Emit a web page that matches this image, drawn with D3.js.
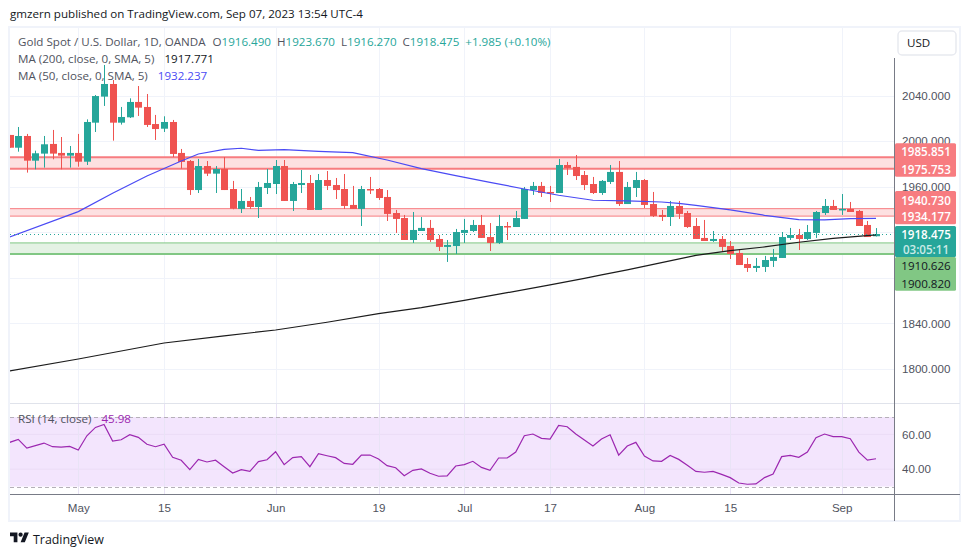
<!DOCTYPE html>
<html>
<head>
<meta charset="utf-8">
<script src="https://cdnjs.cloudflare.com/ajax/libs/d3/7.8.5/d3.min.js"></script>
<style>
  html, body { margin: 0; padding: 0; background: #fff; }
  svg { display: block; font-family: "Open Sans", sans-serif; }
</style>
</head>
<body>
<div id="chart"></div>
<script>
// daily candles, index 0 = mid April 2023, index 101 = Sep 07
const opens = [2005.5,1994.3,2004.6,1982.9,1989.1,1997.6,1989.7,1987.3,1989.7,1982.0,2016.3,2039.2,2050.3,2016.3,2021.0,2034.5,2030.1,2015.1,2011.0,2016.9,
  1989.7,1982.6,1957.1,1978.2,1971.5,1975.6,1958.0,1940.5,1947.5,1942.2,1958.9,1962.4,1978.2,1947.5,1961.5,1963.3,1939.6,1965.9,1961.5,1958.0,
  1944.0,1940.5,1958.0,1958.0,1951.0,1936.9,1932.5,1913.2,1921.1,1923.8,1914.1,1907.1,1907.9,1919.4,1921.1,1926.4,1915.8,1910.6,1925.5,1924.6,
  1931.7,1957.1,1960.7,1955.4,1954.5,1979.1,1977.4,1970.3,1962.4,1954.5,1964.2,1973.0,1944.8,1958.9,1965.9,1944.8,1935.2,1933.4,1943.1,1936.9,
  1925.5,1915.0,1912.3,1914.1,1907.9,1901.8,1892.1,1888.6,1889.5,1894.8,1897.4,1915.0,1917.6,1914.1,1919.4,1936.9,1943.1,1939.6,1940.5,1938.7,
  1926.4,1916.49];
const highs = [2005.5,2012.5,2006.4,1991.7,2004.6,2009.9,2003.7,1995.8,2006.4,2019.2,2040.6,2067.0,2053.8,2030.1,2037.7,2048.5,2041.5,2023.1,2021.9,2018.7,
  1993.2,1983.5,1984.4,1982.6,1978.2,1986.1,1965.1,1958.0,1951.0,1964.2,1975.6,1983.5,1983.5,1964.2,1974.7,1970.3,1971.2,1973.8,1967.7,1971.2,
  1960.7,1960.7,1968.6,1958.9,1957.1,1939.6,1935.2,1937.8,1933.4,1930.8,1917.6,1913.2,1922.9,1931.7,1930.8,1935.2,1928.1,1935.2,1929.0,1938.7,
  1959.8,1964.2,1964.2,1960.7,1984.4,1981.8,1987.9,1973.8,1968.6,1965.9,1979.1,1982.6,1964.2,1973.0,1966.8,1955.4,1939.6,1947.5,1947.5,1938.7,
  1932.5,1930.8,1921.1,1916.7,1912.3,1905.3,1897.4,1897.4,1899.2,1905.3,1920.2,1923.8,1922.9,1926.4,1938.7,1949.2,1948.4,1953.6,1946.6,1939.6,
  1929.9,1923.67];
const lows = [1994.3,1990.8,1972.4,1975.3,1976.8,1984.1,1975.3,1976.8,1977.6,1979.1,2008.1,2031.0,2000.5,2014.6,2020.4,2022.2,2012.5,2001.1,2008.1,1986.1,
  1975.9,1952.8,1954.5,1969.4,1954.5,1957.1,1940.2,1936.9,1940.5,1932.5,1953.6,1953.6,1947.5,1938.7,1954.5,1939.6,1939.6,1957.1,1949.2,1940.5,
  1940.5,1925.5,1953.6,1948.4,1929.9,1919.4,1913.2,1910.6,1921.1,1911.5,1903.5,1893.9,1900.9,1910.6,1920.2,1915.0,1903.5,1909.7,1913.2,1924.6,
  1931.7,1952.8,1951.0,1946.6,1954.5,1970.3,1965.9,1957.1,1953.6,1952.8,1962.4,1943.1,1944.8,1951.0,1941.3,1933.4,1929.9,1925.5,1931.7,1923.8,
  1914.1,1912.3,1911.5,1903.5,1896.5,1891.2,1885.1,1885.1,1885.1,1889.5,1897.4,1913.2,1904.4,1913.2,1915.0,1935.2,1939.6,1935.2,1937.8,1925.5,
  1915.8,1916.27];
const closes = [1994.3,2004.6,1982.9,1989.4,1997.3,1989.1,1987.3,1989.7,1982.0,2016.9,2039.7,2050.3,2016.3,2021.3,2034.5,2029.5,2014.3,2010.7,2016.9,1988.8,
  1981.8,1957.1,1978.2,1971.5,1975.6,1957.1,1940.7,1947.5,1942.2,1959.8,1963.3,1978.2,1947.5,1962.4,1963.3,1939.6,1965.9,1960.7,1957.1,1943.1,
  1940.5,1958.0,1957.1,1950.1,1936.1,1931.7,1913.2,1922.0,1923.8,1913.2,1907.1,1908.8,1920.2,1922.0,1926.4,1915.0,1910.6,1925.5,1924.6,1932.5,
  1958.0,1960.7,1954.5,1954.5,1979.1,1976.5,1969.4,1961.5,1954.5,1965.1,1973.0,1944.8,1959.8,1965.9,1944.0,1934.3,1933.4,1943.1,1936.1,1924.6,
  1914.1,1912.3,1914.1,1907.1,1900.9,1891.2,1888.6,1890.4,1895.6,1898.3,1915.8,1917.6,1914.1,1920.2,1937.8,1943.1,1939.6,1940.5,1937.8,1925.5,
  1915.8,1918.475];

// moving averages read at these candle indexes
const ma50Index = [0,8,12,16,20,22,25,27,29,32,36,40,44,48,52,56,60,64,68,72,76,78,80,84,88,92,95,98,101];
const ma50Values = [1915.8,1938.1,1954.2,1969.4,1982.6,1988.8,1992.9,1993.8,1992.0,1992.6,1991.1,1990.0,1983.5,1975.9,1969.7,1963.9,1958.0,1952.5,1948.1,1947.5,1946.6,1945.4,1943.7,1939.6,1934.9,1931.1,1930.8,1932.0,1932.237];
const ma200Index = [0,8,18,25,31,37,43,48,53,58,63,67,69,72,76,80,84,88,92,96,101];
const ma200Values = [1798.1,1808.6,1822.7,1828.9,1834.1,1840.9,1848.5,1853.8,1860.2,1866.9,1873.7,1879.5,1882.5,1886.9,1893.3,1899.7,1903.8,1907.1,1911.2,1914.7,1917.771];

const rsiValues = [55.4,57.1,52.1,53.5,55.0,52.9,52.7,53.1,51.0,59.2,64.0,65.7,56.2,56.9,59.8,58.3,54.3,52.9,54.3,46.8,
  45.1,39.7,45.6,44.1,45.1,41.4,37.8,39.7,38.7,44.3,45.4,50.0,42.6,46.6,47.2,41.4,48.9,47.7,46.6,43.3,
  42.8,48.1,48.1,45.8,42.0,40.8,36.2,39.3,40.1,37.6,35.9,36.1,41.8,42.6,44.5,41.0,39.3,46.4,46.4,49.8,
  59.2,60.2,57.7,57.3,65.2,64.4,60.2,56.7,53.3,57.3,59.8,48.1,53.3,55.4,47.5,44.7,44.5,47.9,45.6,42.2,
  38.7,38.2,38.7,37.0,35.1,32.0,31.3,31.5,35.1,37.2,47.2,47.9,46.8,49.8,58.1,60.2,58.7,58.7,57.5,49.8,
  45.2,45.98];

const bands = [
  {top: 1985.851, bottom: 1975.753, line: "#f77c80", fill: "#fde0e1", topW: 2, bottomW: 2, color: "#f77c80"},
  {top: 1940.730, bottom: 1934.177, line: "#f77c80", fill: "#fde0e1", topW: 1, bottomW: 1, color: "#f77c80"},
  {top: 1910.626, bottom: 1900.820, line: "#81c784", fill: "#e4f2e4", topW: 1, bottomW: 2, color: "#81c784"}
];

const priceTicks = [2040, 2000, 1960, 1920, 1880, 1840, 1800];
const priceLabels = [2040, 2000, 1960, 1840, 1800];
const rsiTicks = [60, 40];
const dateTicks = [8, 18, 31, 43, 53, 63, 74, 84, 97];
const dateLabels = ["May", "15", "Jun", "19", "Jul", "17", "Aug", "15", "Sep"];

const svg_width = 970, svg_height = 557;
const paneLeft = 10, paneRight = 894, paneTop = 28, paneBottom = 403, rsiBottom = 494, frameBottom = 521;
const teal = "#26a69a", red = "#ef5350", gridCol = "#f0f3fa", textCol = "#50535e";

const svg = d3.select("#chart").append("svg").attr("width", svg_width).attr("height", svg_height);

const xScale = d3.scaleLinear([8, 97], [78.3, 841.7]);
const yScale = d3.scaleLinear([2040, 1800], [95.7, 368.8]);
const rsiScale = d3.scaleLinear([70, 30], [417, 486.5]);

svg.append("clipPath").attr("id", "mainClip").append("rect")
  .attr("x", paneLeft).attr("y", paneTop).attr("width", paneRight - paneLeft).attr("height", paneBottom - paneTop);
svg.append("clipPath").attr("id", "rsiClip").append("rect")
  .attr("x", paneLeft).attr("y", paneBottom).attr("width", paneRight - paneLeft).attr("height", rsiBottom - paneBottom);

// frame
svg.append("rect").attr("x", 9).attr("y", 27).attr("width", 951).attr("height", frameBottom - 27)
  .attr("fill", "none").attr("stroke", gridCol).attr("stroke-width", 2);

// grid
const grid = svg.append("g");
grid.selectAll(".vgrid").data(dateTicks).enter().append("line")
  .attr("x1", d => Math.round(xScale(d)) + 0.5).attr("x2", d => Math.round(xScale(d)) + 0.5)
  .attr("y1", paneTop).attr("y2", rsiBottom).attr("stroke", gridCol);
grid.selectAll(".hgrid").data(priceTicks).enter().append("line")
  .attr("x1", paneLeft).attr("x2", paneRight)
  .attr("y1", d => Math.round(yScale(d)) + 0.5).attr("y2", d => Math.round(yScale(d)) + 0.5)
  .attr("stroke", gridCol);

// horizontal zones
const main = svg.append("g").attr("clip-path", "url(#mainClip)");
bands.forEach(b => {
  main.append("rect").attr("x", paneLeft).attr("width", paneRight - paneLeft)
    .attr("y", yScale(b.top)).attr("height", yScale(b.bottom) - yScale(b.top)).attr("fill", b.fill);
  main.append("line").attr("x1", paneLeft).attr("x2", paneRight)
    .attr("y1", yScale(b.top)).attr("y2", yScale(b.top)).attr("stroke", b.line).attr("stroke-width", b.topW);
  main.append("line").attr("x1", paneLeft).attr("x2", paneRight)
    .attr("y1", yScale(b.bottom)).attr("y2", yScale(b.bottom)).attr("stroke", b.line).attr("stroke-width", b.bottomW);
});

// candles
const candleCol = i => closes[i] >= opens[i] ? teal : red;
main.selectAll(".wick").data(d3.range(opens.length)).enter().append("line")
  .attr("class", "wick")
  .attr("x1", i => Math.round(xScale(i)) + 0.5).attr("x2", i => Math.round(xScale(i)) + 0.5)
  .attr("y1", i => yScale(highs[i])).attr("y2", i => yScale(lows[i]))
  .attr("stroke", candleCol);
main.selectAll(".body").data(d3.range(opens.length)).enter().append("rect")
  .attr("class", "body")
  .attr("x", i => Math.round(xScale(i)) - 3).attr("width", 7)
  .attr("y", i => yScale(Math.max(opens[i], closes[i])))
  .attr("height", i => Math.max(1.5, Math.abs(yScale(opens[i]) - yScale(closes[i]))))
  .attr("fill", candleCol);

// moving averages
const maLine = (index, values, color) => {
  main.append("path")
    .attr("d", d3.line().x((d, i) => xScale(index[i])).y(d => yScale(d))(values))
    .attr("fill", "none").attr("stroke", color).attr("stroke-width", 1.2);
};
maLine(ma200Index, ma200Values, "#1c1c1c");
maLine(ma50Index, ma50Values, "#4a4af4");

// last price dotted line
const lastClose = closes[closes.length - 1];
main.append("line").attr("x1", paneLeft).attr("x2", paneRight)
  .attr("y1", Math.round(yScale(lastClose)) + 0.5).attr("y2", Math.round(yScale(lastClose)) + 0.5)
  .attr("stroke", teal).attr("stroke-dasharray", "1 3");

// rsi pane
const rsiPane = svg.append("g").attr("clip-path", "url(#rsiClip)");
rsiPane.append("rect").attr("x", paneLeft).attr("width", paneRight - paneLeft)
  .attr("y", rsiScale(70)).attr("height", rsiScale(30) - rsiScale(70)).attr("fill", "#f3e5fd");
rsiPane.selectAll(".rsigrid").data(rsiTicks).enter().append("line")
  .attr("x1", paneLeft).attr("x2", paneRight)
  .attr("y1", d => rsiScale(d)).attr("y2", d => rsiScale(d)).attr("stroke", "#ebdcf6");
dateTicks.forEach(d => {
  rsiPane.append("line").attr("x1", Math.round(xScale(d)) + 0.5).attr("x2", Math.round(xScale(d)) + 0.5)
    .attr("y1", paneBottom).attr("y2", rsiBottom).attr("stroke", "#e9e3f6");
});
[70, 30].forEach(d => {
  rsiPane.append("line").attr("x1", paneLeft).attr("x2", paneRight)
    .attr("y1", Math.round(rsiScale(d)) + 0.5).attr("y2", Math.round(rsiScale(d)) + 0.5)
    .attr("stroke", "#b5b0b8").attr("stroke-dasharray", "4 3");
});
rsiPane.append("path")
  .attr("d", d3.line().x((d, i) => xScale(i)).y(d => rsiScale(d))(rsiValues))
  .attr("fill", "none").attr("stroke", "#9c27b0").attr("stroke-width", 1.2);

// separators and axis lines
svg.append("line").attr("x1", paneLeft).attr("x2", 960).attr("y1", 403.5).attr("y2", 403.5).attr("stroke", "#e0e3eb");
svg.append("line").attr("x1", paneLeft).attr("x2", 960).attr("y1", rsiBottom + 0.5).attr("y2", rsiBottom + 0.5).attr("stroke", "#787b86");
svg.append("line").attr("x1", paneRight + 0.5).attr("x2", paneRight + 0.5).attr("y1", 58).attr("y2", frameBottom).attr("stroke", "#787b86");

// axes
const xAxis = d3.axisBottom(xScale).tickValues(dateTicks)
  .tickFormat((d, i) => dateLabels[i]).tickSize(0).tickPadding(0);
const xAxisDraw = svg.append("g").attr("transform", `translate(0,${rsiBottom + 18})`).call(xAxis);
xAxisDraw.select(".domain").remove();
xAxisDraw.selectAll("text").attr("dy", 0).attr("fill", textCol).style("font-size", "11.6px");

const yAxis = d3.axisRight(yScale).tickValues(priceLabels)
  .tickFormat(d3.format(".3f")).tickSize(0).tickPadding(0);
const yAxisDraw = svg.append("g").attr("transform", "translate(902,0)").call(yAxis);
yAxisDraw.select(".domain").remove();
yAxisDraw.selectAll("text").attr("fill", textCol).style("font-size", "11.6px");

const rsiAxis = d3.axisRight(rsiScale).tickValues(rsiTicks)
  .tickFormat(d3.format(".2f")).tickSize(0).tickPadding(0);
const rsiAxisDraw = svg.append("g").attr("transform", "translate(902,0)").call(rsiAxis);
rsiAxisDraw.select(".domain").remove();
rsiAxisDraw.selectAll("text").attr("fill", textCol).style("font-size", "11.6px");

// price badges
const badge = (y, h, fill) => svg.append("rect").attr("x", 895).attr("y", y).attr("width", 61).attr("height", h).attr("rx", 1.5).attr("fill", fill);
const badgeText = (y, txt, fill, weight) => svg.append("text").attr("x", 926).attr("y", y).attr("text-anchor", "middle")
  .attr("dominant-baseline", "central").attr("fill", fill).style("font-size", "11.6px").style("font-weight", weight || 400).text(txt);

badge(143.3, 33.4, bands[0].color);
badgeText(151.5, bands[0].top.toFixed(3), "#fff", 600);
badgeText(169, bands[0].bottom.toFixed(3), "#fff", 600);
badge(191, 33.3, bands[1].color);
badgeText(200, bands[1].top.toFixed(3), "#fff", 600);
badgeText(216.5, bands[1].bottom.toFixed(3), "#fff", 600);
badge(226, 31, teal);
badgeText(234.5, lastClose.toFixed(3), "#fff", 600);
badgeText(249.5, "03:05:11", "#c9ebe7", 600);
badge(257, 33.7, bands[2].color);
badgeText(265.5, bands[2].top.toFixed(3), "#131722");
badgeText(283, bands[2].bottom.toFixed(3), "#131722");

// currency button
svg.append("rect").attr("x", 898).attr("y", 31).attr("width", 58).attr("height", 24).attr("rx", 4)
  .attr("fill", "#fff").attr("stroke", "#e8eaf0").attr("stroke-width", 1.5);
svg.append("text").attr("x", 907).attr("y", 47).attr("fill", "#131722").style("font-size", "11.6px").text("USD");

// legends
const legendRow = (x, y, parts) => {
  const t = svg.append("text").attr("x", x).attr("y", y).style("font-size", "11.6px");
  parts.forEach(p => t.append("tspan").attr("fill", p[1]).attr("dx", p[2] || 0).text(p[0]));
};
legendRow(10, 18, [["gmzern published on TradingView.com, Sep 07, 2023 13:54 UTC-4", "#131722"]]);
legendRow(18, 46, [
  ["Gold Spot / U.S. Dollar, 1D, OANDA", textCol],
  ["O", textCol, 7], ["1916.490", teal],
  ["H", textCol, 6], ["1923.670", teal],
  ["L", textCol, 6], ["1916.270", teal],
  ["C", textCol, 6], ["1918.475", teal],
  ["+1.985 (+0.10%)", teal, 6]
]);
legendRow(18, 63, [["MA (200, close, 0, SMA, 5)", textCol], ["1917.771", "#131722", 10]]);
legendRow(18, 80, [["MA (50, close, 0, SMA, 5)", textCol], ["1932.237", "#4a4af4", 10]]);
legendRow(18, 423, [["RSI (14, close)", textCol], ["45.98", "#9c27b0", 10]]);

// footer logo
const logo = svg.append("g").attr("transform", "translate(10,530.5) scale(0.53)").attr("fill", "#131722");
logo.append("path").attr("d", "M14 22H7V11H0V4h14v18zM28 22h-8l7.5-18h8L28 22z");
logo.append("circle").attr("cx", 20).attr("cy", 8).attr("r", 4);
svg.append("text").attr("x", 33).attr("y", 544).attr("fill", "#131722").style("font-size", "12.4px").text("TradingView");
</script>
</body>
</html>
